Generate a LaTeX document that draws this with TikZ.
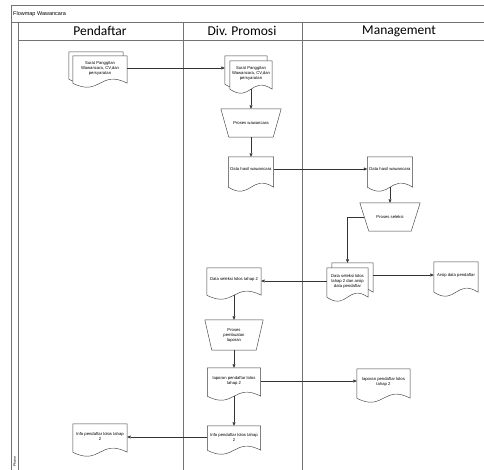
\documentclass[tikz,border=0pt]{standalone}
\usepackage{fontspec}
\setmainfont{Liberation Sans}
\newfontfamily\hdrfont{Carlito}
\usetikzlibrary{calc,arrows.meta}
\pgfdeclarelayer{bgl}
\pgfdeclarelayer{midl}
\pgfsetlayers{bgl,midl,main}
\tikzset{
  frameline/.style={draw=black!55, line width=0.7pt},
  shp/.style={draw=black!75, line width=0.45pt, fill=white},
  docbox/.style={draw=none, inner sep=0pt, align=center, font=\fontsize{4.2}{5}\selectfont},
  arr/.style={draw=black!80, line width=0.45pt, -{Triangle[length=3.5pt,width=3pt]}},
  lanehdr/.style={font=\hdrfont\fontsize{13.5}{15}\selectfont},
}
% document outline: #1 layer, #2 node name, #3 extension of the sides below the node
\newcommand\docshape[3]{%
  \begin{pgfonlayer}{#1}
  \filldraw[shp] ($(#2.south east)+(0,#3)$) -- (#2.north east) -- (#2.north west) -- ($(#2.south west)+(0,#3)$)
    .. controls ($(#2.south west)!0.5!(#2.south east)+(0,#3+14)$) and ($(#2.south west)!0.5!(#2.south east)+(0,#3-14)$) .. ($(#2.south east)+(0,#3)$) -- cycle;
  \end{pgfonlayer}
  \coordinate (#2-b) at ($(#2.south)+(0,#3)$);}
\newcommand\trapshape[2]{%
  \begin{pgfonlayer}{midl}
  \filldraw[shp] (#1.north west) -- (#1.north east) -- ($(#1.south east)+(-#2,0)$) -- ($(#1.south west)+(#2,0)$) -- cycle;
  \end{pgfonlayer}}
\begin{document}
\begin{tikzpicture}[x=1pt,y=-1pt]
\useasboundingbox (0,0) rectangle (484,470);
% frame
\begin{pgfonlayer}{bgl}
\draw[frameline] (11,470) -- (11,5) -- (484,5);
\draw[frameline] (11,22) -- (484,22);
\draw[frameline] (18,22) -- (18,470);
\draw[frameline] (18,40) -- (484,40);
\draw[frameline] (183,22) -- (183,470);
\draw[frameline] (302,22) -- (302,470);
\end{pgfonlayer}
\node[anchor=west, inner sep=0pt, font=\fontsize{5.5}{6}\selectfont] (title) at (13,14) {Flowmap Wawancara};
\node[rotate=90, inner sep=0pt, font=\fontsize{3.5}{4}\selectfont] (phase) at (14.5,462) {Phase};
\node[lanehdr] (hp) at (100,31) {Pendaftar};
\node[lanehdr] (hd) at (242,31) {Div. Promosi};
\node[lanehdr] (hm) at (399,31) {Management};

% Pendaftar: surat (multi document)
\node[docbox, minimum width=54, minimum height=24] (d1b) at (96,64) {};
\docshape{bgl}{d1b}{3}
\node[docbox, minimum width=54, minimum height=24] (d1) at (100,68) {Surat Panggilan\\Wawancara, CV,dan\\persyaratan};
\docshape{midl}{d1}{3}

% Div. Promosi: surat (multi document)
\node[docbox, minimum width=42, minimum height=24] (d2b) at (246,68) {};
\docshape{bgl}{d2b}{4}
\node[docbox, minimum width=42, minimum height=24] (d2) at (251,73) {Surat Panggilan\\Wawancara, CV,dan\\persyaratan};
\docshape{midl}{d2}{4}

\node[docbox, minimum width=60, minimum height=28] (t1) at (251,123) {Proses wawancara};
\trapshape{t1}{8}

\node[docbox, minimum width=45, minimum height=24] (d3) at (251,169) {Data hasil wawancara};
\docshape{midl}{d3}{6}

% Management
\node[docbox, minimum width=45, minimum height=24] (d4) at (390,169) {Data hasil wawancara};
\docshape{midl}{d4}{6}

\node[docbox, minimum width=60, minimum height=28] (t2) at (390,217) {Proses seleksi};
\trapshape{t2}{9}

\node[docbox, minimum width=41, minimum height=26] (d5b) at (352.5,276) {};
\docshape{bgl}{d5b}{3}
\node[docbox, minimum width=41, minimum height=26] (d5) at (347.5,281) {Data seleksi lolos\\tahap 2 dan arsip\\data pendaftar};
\docshape{midl}{d5}{3}

\node[docbox, minimum width=44, minimum height=26] (d6) at (456,275) {Arsip data pendaftar};
\docshape{midl}{d6}{4}

% Div. Promosi lower
\node[docbox, minimum width=54, minimum height=22] (d7) at (234,279) {Data seleksi lolos tahap 2};
\docshape{midl}{d7}{5}

\node[docbox, minimum width=58, minimum height=30] (t3) at (234,335) {Proses\\pembuatan\\laporan};
\trapshape{t3}{7}

\node[docbox, minimum width=53, minimum height=26] (d8) at (234,381) {laporan pendaftar lolos\\tahap 2};
\docshape{midl}{d8}{2}

\node[docbox, minimum width=53, minimum height=26] (d9) at (383.5,382) {laporan pendaftar lolos\\tahap 2};
\docshape{midl}{d9}{3}

\node[docbox, minimum width=53, minimum height=22] (d10) at (234,437) {Info pendaftar lolos tahap\\2};
\docshape{midl}{d10}{2}

\node[docbox, minimum width=54, minimum height=24] (d11) at (100,436) {Info pendaftar lolos tahap\\2};
\docshape{midl}{d11}{4}

% connectors
\draw[arr] (d1.east) -- (d1.east -| d2b.west);
\draw[arr] (d2-b) -- (d2-b |- t1.north);
\draw[arr] (t1.south) -- (d3.north);
\draw[arr] (d3.east) -- (d3.east -| d4.west);
\draw[arr] (d4-b) -- (d4-b |- t2.north);
\draw[arr] ($(t2.west)+(4.5,0)$) -| (d5b.north -| d5.north);
\draw[arr] (d5.west) -- (d5.west -| d7.east);
\draw[arr] (d6.west -| d5b.east) -- (d6.west);
\draw[arr] (d7-b) -- (d7-b |- t3.north);
\draw[arr] (t3.south) -- (d8.north);
\draw[arr] (d8.east) -- (d8.east -| d9.west);
\draw[arr] (d8-b) -- (d8-b |- d10.north);
\draw[arr] (d10.west) -- (d10.west -| d11.east);
\end{tikzpicture}
\end{document}
